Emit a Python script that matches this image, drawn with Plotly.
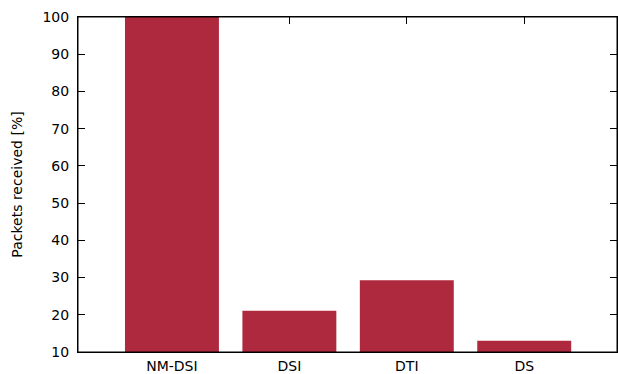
import plotly.graph_objects as go

# Share of packets received per scheme
schemes = ["NM-DSI", "DSI", "DTI", "DS"]
received_pct = [100, 21.1, 29.3, 13.0]
y_ticks = [10, 20, 30, 40, 50, 60, 70, 80, 90, 100]

BAR_COLOR = "#ae283e"
FONT = "DejaVu Sans"

axis_common = dict(
    ticks="inside",
    ticklen=7,
    tickcolor="black",
    tickwidth=1,
    showgrid=False,
    zeroline=False,
    showline=True,
    linecolor="black",
    linewidth=1,
    mirror="ticks",
    layer="below traces",
    automargin=False,
)

fig = go.Figure(
    go.Bar(
        x=schemes,
        y=received_pct,
        width=0.8,
        marker=dict(color=BAR_COLOR, line=dict(width=0)),
    )
)

fig.update_layout(
    width=618,
    height=374,
    margin=dict(l=78, r=1, t=17, b=22),
    paper_bgcolor="white",
    plot_bgcolor="white",
    showlegend=False,
    font=dict(family=FONT, size=14, color="black"),
    yaxis=dict(
        range=[10, 100],
        tickvals=y_ticks,
        title=dict(text="Packets received [%]", font=dict(size=14), standoff=16),
        ticklabelstandoff=5,
        **axis_common,
    ),
    xaxis=dict(
        range=[-0.8, 3.79],
        ticklabelstandoff=1,
        **axis_common,
    ),
    shapes=[
        dict(
            type="rect", xref="paper", yref="paper",
            x0=0, y0=0, x1=1, y1=1,
            line=dict(color="black", width=1),
            layer="above",
        )
    ],
)

fig.write_html("out.html")
